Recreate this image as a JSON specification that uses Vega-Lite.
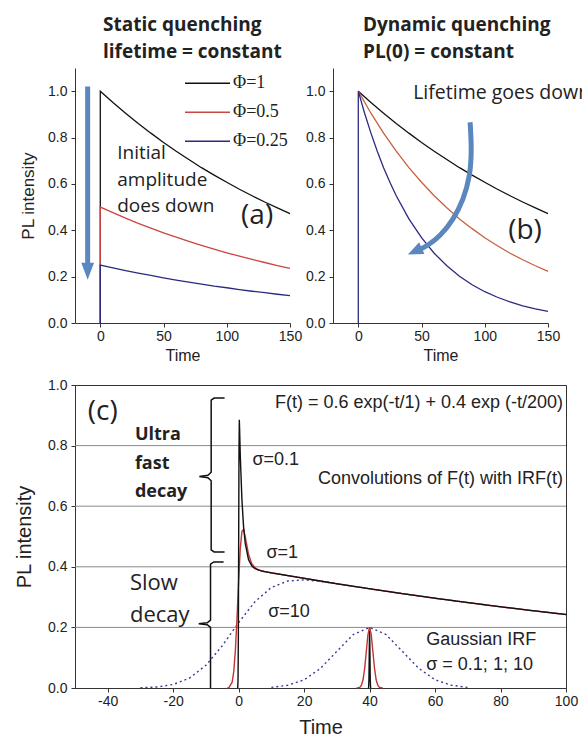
{
  "$schema": "https://vega.github.io/schema/vega-lite/v6.json",
  "background": "white",
  "padding": {"left": 14, "top": 16, "right": 0, "bottom": 0},
  "spacing": 14,
  "resolve": {"scale": {"color": "independent", "strokeDash": "independent"}},
  "config": {
    "view": {"stroke": null},
    "font": "Liberation Sans",
    "axis": {"domainColor": "#333", "tickColor": "#333", "labelColor": "#222", "titleColor": "#222", "labelFont": "Liberation Sans", "labelFontSize": 14, "titleFont": "Liberation Sans", "titleFontWeight": "normal", "tickSize": 4, "grid": false, "labelOverlap": false},
    "axisX": {"labelPadding": 2, "labelFlush": false},
    "axisY": {"labelPadding": 4},
    "title": {"font": "Open Sans", "fontWeight": "bold", "fontSize": 19, "color": "#222", "anchor": "start", "frame": "group"}
  },
  "datasets": {
    "curvesA": [
      {"t": 0, "v": 0, "s": "Φ=1"}, {"t": 0, "v": 1, "s": "Φ=1"}, {"t": 10, "v": 0.951, "s": "Φ=1"}, {"t": 20, "v": 0.905, "s": "Φ=1"}, {"t": 30, "v": 0.861, "s": "Φ=1"}, {"t": 40, "v": 0.819, "s": "Φ=1"}, {"t": 50, "v": 0.779, "s": "Φ=1"}, {"t": 60, "v": 0.741, "s": "Φ=1"}, {"t": 70, "v": 0.705, "s": "Φ=1"}, {"t": 80, "v": 0.670, "s": "Φ=1"}, {"t": 90, "v": 0.638, "s": "Φ=1"}, {"t": 100, "v": 0.607, "s": "Φ=1"}, {"t": 110, "v": 0.577, "s": "Φ=1"}, {"t": 120, "v": 0.549, "s": "Φ=1"}, {"t": 130, "v": 0.522, "s": "Φ=1"}, {"t": 140, "v": 0.497, "s": "Φ=1"}, {"t": 150, "v": 0.472, "s": "Φ=1"},
      {"t": 0, "v": 0, "s": "Φ=0.5"}, {"t": 0, "v": 0.5, "s": "Φ=0.5"}, {"t": 10, "v": 0.476, "s": "Φ=0.5"}, {"t": 20, "v": 0.452, "s": "Φ=0.5"}, {"t": 30, "v": 0.430, "s": "Φ=0.5"}, {"t": 40, "v": 0.409, "s": "Φ=0.5"}, {"t": 50, "v": 0.389, "s": "Φ=0.5"}, {"t": 60, "v": 0.370, "s": "Φ=0.5"}, {"t": 70, "v": 0.352, "s": "Φ=0.5"}, {"t": 80, "v": 0.335, "s": "Φ=0.5"}, {"t": 90, "v": 0.319, "s": "Φ=0.5"}, {"t": 100, "v": 0.303, "s": "Φ=0.5"}, {"t": 110, "v": 0.288, "s": "Φ=0.5"}, {"t": 120, "v": 0.274, "s": "Φ=0.5"}, {"t": 130, "v": 0.261, "s": "Φ=0.5"}, {"t": 140, "v": 0.248, "s": "Φ=0.5"}, {"t": 150, "v": 0.236, "s": "Φ=0.5"},
      {"t": 0, "v": 0, "s": "Φ=0.25"}, {"t": 0, "v": 0.25, "s": "Φ=0.25"}, {"t": 10, "v": 0.238, "s": "Φ=0.25"}, {"t": 20, "v": 0.226, "s": "Φ=0.25"}, {"t": 30, "v": 0.215, "s": "Φ=0.25"}, {"t": 40, "v": 0.205, "s": "Φ=0.25"}, {"t": 50, "v": 0.195, "s": "Φ=0.25"}, {"t": 60, "v": 0.185, "s": "Φ=0.25"}, {"t": 70, "v": 0.176, "s": "Φ=0.25"}, {"t": 80, "v": 0.168, "s": "Φ=0.25"}, {"t": 90, "v": 0.159, "s": "Φ=0.25"}, {"t": 100, "v": 0.152, "s": "Φ=0.25"}, {"t": 110, "v": 0.144, "s": "Φ=0.25"}, {"t": 120, "v": 0.137, "s": "Φ=0.25"}, {"t": 130, "v": 0.131, "s": "Φ=0.25"}, {"t": 140, "v": 0.124, "s": "Φ=0.25"}, {"t": 150, "v": 0.118, "s": "Φ=0.25"}
    ],
    "curvesB": [
      {"t": 0, "v": 1, "s": "τ=200"}, {"t": 10, "v": 0.951, "s": "τ=200"}, {"t": 20, "v": 0.905, "s": "τ=200"}, {"t": 30, "v": 0.861, "s": "τ=200"}, {"t": 40, "v": 0.819, "s": "τ=200"}, {"t": 50, "v": 0.779, "s": "τ=200"}, {"t": 60, "v": 0.741, "s": "τ=200"}, {"t": 70, "v": 0.705, "s": "τ=200"}, {"t": 80, "v": 0.670, "s": "τ=200"}, {"t": 90, "v": 0.638, "s": "τ=200"}, {"t": 100, "v": 0.607, "s": "τ=200"}, {"t": 110, "v": 0.577, "s": "τ=200"}, {"t": 120, "v": 0.549, "s": "τ=200"}, {"t": 130, "v": 0.522, "s": "τ=200"}, {"t": 140, "v": 0.497, "s": "τ=200"}, {"t": 150, "v": 0.472, "s": "τ=200"},
      {"t": 0, "v": 1, "s": "τ=100"}, {"t": 10, "v": 0.905, "s": "τ=100"}, {"t": 20, "v": 0.819, "s": "τ=100"}, {"t": 30, "v": 0.741, "s": "τ=100"}, {"t": 40, "v": 0.670, "s": "τ=100"}, {"t": 50, "v": 0.607, "s": "τ=100"}, {"t": 60, "v": 0.549, "s": "τ=100"}, {"t": 70, "v": 0.497, "s": "τ=100"}, {"t": 80, "v": 0.449, "s": "τ=100"}, {"t": 90, "v": 0.407, "s": "τ=100"}, {"t": 100, "v": 0.368, "s": "τ=100"}, {"t": 110, "v": 0.333, "s": "τ=100"}, {"t": 120, "v": 0.301, "s": "τ=100"}, {"t": 130, "v": 0.273, "s": "τ=100"}, {"t": 140, "v": 0.247, "s": "τ=100"}, {"t": 150, "v": 0.223, "s": "τ=100"},
      {"t": 0, "v": 0, "s": "τ=50"}, {"t": 0, "v": 1, "s": "τ=50"}, {"t": 5, "v": 0.905, "s": "τ=50"}, {"t": 10, "v": 0.819, "s": "τ=50"}, {"t": 15, "v": 0.741, "s": "τ=50"}, {"t": 20, "v": 0.670, "s": "τ=50"}, {"t": 25, "v": 0.607, "s": "τ=50"}, {"t": 30, "v": 0.549, "s": "τ=50"}, {"t": 40, "v": 0.449, "s": "τ=50"}, {"t": 50, "v": 0.368, "s": "τ=50"}, {"t": 60, "v": 0.301, "s": "τ=50"}, {"t": 70, "v": 0.247, "s": "τ=50"}, {"t": 80, "v": 0.202, "s": "τ=50"}, {"t": 90, "v": 0.165, "s": "τ=50"}, {"t": 100, "v": 0.135, "s": "τ=50"}, {"t": 110, "v": 0.111, "s": "τ=50"}, {"t": 120, "v": 0.091, "s": "τ=50"}, {"t": 130, "v": 0.074, "s": "τ=50"}, {"t": 140, "v": 0.061, "s": "τ=50"}, {"t": 150, "v": 0.050, "s": "τ=50"}
    ],
    "arrowB": [
      {"t": 88.4, "v": 0.866, "k": 1}, {"t": 89.7, "v": 0.749, "k": 2}, {"t": 88.4, "v": 0.633, "k": 3}, {"t": 83.1, "v": 0.532, "k": 4}, {"t": 75.2, "v": 0.446, "k": 5}, {"t": 64.7, "v": 0.374, "k": 6}, {"t": 55, "v": 0.335, "k": 7}, {"t": 49, "v": 0.318, "k": 8}
    ],
    "curvesC": [
      {"t": -30, "v": 0.0007, "s": "c10", "g": "10"}, {"t": -25, "v": 0.0033, "s": "c10", "g": "10"}, {"t": -20, "v": 0.0116, "s": "c10", "g": "10"}, {"t": -15, "v": 0.0329, "s": "c10", "g": "10"}, {"t": -10, "v": 0.075, "s": "c10", "g": "10"}, {"t": -5, "v": 0.1395, "s": "c10", "g": "10"}, {"t": 0, "v": 0.216, "s": "c10", "g": "10"}, {"t": 5, "v": 0.285, "s": "c10", "g": "10"}, {"t": 10, "v": 0.332, "s": "c10", "g": "10"}, {"t": 15, "v": 0.353, "s": "c10", "g": "10"}, {"t": 20, "v": 0.357, "s": "c10", "g": "10"}, {"t": 25, "v": 0.352, "s": "c10", "g": "10"}, {"t": 30, "v": 0.3446, "s": "c10", "g": "10"},
      {"t": 10, "v": 0.002, "s": "g10", "g": "10"}, {"t": 15, "v": 0.009, "s": "g10", "g": "10"}, {"t": 20, "v": 0.027, "s": "g10", "g": "10"}, {"t": 25, "v": 0.065, "s": "g10", "g": "10"}, {"t": 30, "v": 0.121, "s": "g10", "g": "10"}, {"t": 35, "v": 0.1765, "s": "g10", "g": "10"}, {"t": 40, "v": 0.2, "s": "g10", "g": "10"}, {"t": 45, "v": 0.1765, "s": "g10", "g": "10"}, {"t": 50, "v": 0.121, "s": "g10", "g": "10"}, {"t": 55, "v": 0.065, "s": "g10", "g": "10"}, {"t": 60, "v": 0.027, "s": "g10", "g": "10"}, {"t": 65, "v": 0.009, "s": "g10", "g": "10"}, {"t": 70, "v": 0.002, "s": "g10", "g": "10"},
      {"t": -3.5, "v": 0, "s": "c1", "g": "1"}, {"t": -3, "v": 0.001, "s": "c1", "g": "1"}, {"t": -2, "v": 0.019, "s": "c1", "g": "1"}, {"t": -1.5, "v": 0.054, "s": "c1", "g": "1"}, {"t": -1, "v": 0.125, "s": "c1", "g": "1"}, {"t": -0.5, "v": 0.232, "s": "c1", "g": "1"}, {"t": 0, "v": 0.357, "s": "c1", "g": "1"}, {"t": 0.5, "v": 0.461, "s": "c1", "g": "1"}, {"t": 1, "v": 0.517, "s": "c1", "g": "1"}, {"t": 1.5, "v": 0.523, "s": "c1", "g": "1"}, {"t": 2, "v": 0.5, "s": "c1", "g": "1"}, {"t": 3, "v": 0.442, "s": "c1", "g": "1"}, {"t": 4, "v": 0.41, "s": "c1", "g": "1"}, {"t": 5, "v": 0.397, "s": "c1", "g": "1"}, {"t": 6, "v": 0.39, "s": "c1", "g": "1"}, {"t": 8, "v": 0.384, "s": "c1", "g": "1"}, {"t": 10, "v": 0.38, "s": "c1", "g": "1"}, {"t": 15, "v": 0.371, "s": "c1", "g": "1"}, {"t": 20, "v": 0.362, "s": "c1", "g": "1"}, {"t": 30, "v": 0.344, "s": "c1", "g": "1"}, {"t": 40, "v": 0.3275, "s": "c1", "g": "1"}, {"t": 50, "v": 0.3115, "s": "c1", "g": "1"}, {"t": 60, "v": 0.2963, "s": "c1", "g": "1"}, {"t": 70, "v": 0.2819, "s": "c1", "g": "1"}, {"t": 80, "v": 0.2681, "s": "c1", "g": "1"}, {"t": 90, "v": 0.255, "s": "c1", "g": "1"}, {"t": 100, "v": 0.2426, "s": "c1", "g": "1"},
      {"t": -0.3, "v": 0, "s": "c01", "g": "0.1"}, {"t": -0.2, "v": 0.022, "s": "c01", "g": "0.1"}, {"t": -0.1, "v": 0.154, "s": "c01", "g": "0.1"}, {"t": 0, "v": 0.478, "s": "c01", "g": "0.1"}, {"t": 0.1, "v": 0.782, "s": "c01", "g": "0.1"}, {"t": 0.2, "v": 0.885, "s": "c01", "g": "0.1"}, {"t": 0.3, "v": 0.85, "s": "c01", "g": "0.1"}, {"t": 0.5, "v": 0.765, "s": "c01", "g": "0.1"}, {"t": 1, "v": 0.62, "s": "c01", "g": "0.1"}, {"t": 1.5, "v": 0.532, "s": "c01", "g": "0.1"}, {"t": 2, "v": 0.478, "s": "c01", "g": "0.1"}, {"t": 3, "v": 0.424, "s": "c01", "g": "0.1"}, {"t": 4, "v": 0.403, "s": "c01", "g": "0.1"}, {"t": 5, "v": 0.394, "s": "c01", "g": "0.1"}, {"t": 7, "v": 0.386, "s": "c01", "g": "0.1"}, {"t": 10, "v": 0.38, "s": "c01", "g": "0.1"}, {"t": 15, "v": 0.371, "s": "c01", "g": "0.1"}, {"t": 20, "v": 0.362, "s": "c01", "g": "0.1"}, {"t": 30, "v": 0.344, "s": "c01", "g": "0.1"}, {"t": 40, "v": 0.3275, "s": "c01", "g": "0.1"}, {"t": 50, "v": 0.3115, "s": "c01", "g": "0.1"}, {"t": 60, "v": 0.2963, "s": "c01", "g": "0.1"}, {"t": 70, "v": 0.2819, "s": "c01", "g": "0.1"}, {"t": 80, "v": 0.2681, "s": "c01", "g": "0.1"}, {"t": 90, "v": 0.255, "s": "c01", "g": "0.1"}, {"t": 100, "v": 0.2426, "s": "c01", "g": "0.1"},
      {"t": 39.6, "v": 0, "s": "g01", "g": "0.1"}, {"t": 39.7, "v": 0.002, "s": "g01", "g": "0.1"}, {"t": 39.8, "v": 0.027, "s": "g01", "g": "0.1"}, {"t": 39.9, "v": 0.121, "s": "g01", "g": "0.1"}, {"t": 40, "v": 0.2, "s": "g01", "g": "0.1"}, {"t": 40.1, "v": 0.121, "s": "g01", "g": "0.1"}, {"t": 40.2, "v": 0.027, "s": "g01", "g": "0.1"}, {"t": 40.3, "v": 0.002, "s": "g01", "g": "0.1"}, {"t": 40.4, "v": 0, "s": "g01", "g": "0.1"},
      {"t": 36, "v": 0, "s": "g1", "g": "1"}, {"t": 37, "v": 0.002, "s": "g1", "g": "1"}, {"t": 37.5, "v": 0.009, "s": "g1", "g": "1"}, {"t": 38, "v": 0.027, "s": "g1", "g": "1"}, {"t": 38.5, "v": 0.065, "s": "g1", "g": "1"}, {"t": 39, "v": 0.121, "s": "g1", "g": "1"}, {"t": 39.5, "v": 0.1765, "s": "g1", "g": "1"}, {"t": 40, "v": 0.2, "s": "g1", "g": "1"}, {"t": 40.5, "v": 0.1765, "s": "g1", "g": "1"}, {"t": 41, "v": 0.121, "s": "g1", "g": "1"}, {"t": 41.5, "v": 0.065, "s": "g1", "g": "1"}, {"t": 42, "v": 0.027, "s": "g1", "g": "1"}, {"t": 42.5, "v": 0.009, "s": "g1", "g": "1"}, {"t": 43, "v": 0.002, "s": "g1", "g": "1"}, {"t": 44, "v": 0, "s": "g1", "g": "1"}
    ],
    "braces": [
      {"t": -4.3, "v": 0.957, "b": "u", "k": 1}, {"t": -7.5, "v": 0.957, "b": "u", "k": 2}, {"t": -8.4, "v": 0.95, "b": "u", "k": 3}, {"t": -8.4, "v": 0.712, "b": "u", "k": 4}, {"t": -9.4, "v": 0.702, "b": "u", "k": 5}, {"t": -12, "v": 0.698, "b": "u", "k": 6}, {"t": -9.4, "v": 0.694, "b": "u", "k": 7}, {"t": -8.4, "v": 0.684, "b": "u", "k": 8}, {"t": -8.4, "v": 0.456, "b": "u", "k": 9}, {"t": -7.5, "v": 0.449, "b": "u", "k": 10}, {"t": -4.3, "v": 0.449, "b": "u", "k": 11},
      {"t": -4.6, "v": 0.416, "b": "s", "k": 1}, {"t": -7.6, "v": 0.416, "b": "s", "k": 2}, {"t": -8.6, "v": 0.409, "b": "s", "k": 3}, {"t": -8.6, "v": 0.224, "b": "s", "k": 4}, {"t": -9.6, "v": 0.215, "b": "s", "k": 5}, {"t": -12.2, "v": 0.212, "b": "s", "k": 6}, {"t": -9.6, "v": 0.209, "b": "s", "k": 7}, {"t": -8.6, "v": 0.2, "b": "s", "k": 8}, {"t": -8.6, "v": 0, "b": "s", "k": 9}
    ]
  },
  "vconcat": [
    {
      "bounds": "flush",
      "spacing": 43,
      "resolve": {"scale": {"color": "independent"}},
      "hconcat": [
        {
          "width": 215,
          "height": 255,
          "title": {"text": ["Static quenching", "lifetime = constant"], "dx": 28, "offset": 6, "lineHeight": 27},
          "layer": [
            {
              "data": {"name": "curvesA"},
              "mark": {"type": "line", "strokeWidth": 1.3},
              "encoding": {
                "x": {"field": "t", "type": "quantitative", "scale": {"domain": [-20, 150], "nice": false, "zero": false},
                      "axis": {"title": "Time", "values": [0, 25, 50, 75, 100, 125, 150], "labelExpr": "datum.value % 50 == 0 ? datum.label : ''", "titleFontSize": 16, "titlePadding": 4}},
                "y": {"field": "v", "type": "quantitative", "scale": {"domain": [0, 1.1], "nice": false},
                      "axis": {"title": "PL intensity", "values": [0, 0.1, 0.2, 0.3, 0.4, 0.5, 0.6, 0.7, 0.8, 0.9, 1.0], "labelExpr": "round(datum.value * 10) % 2 == 0 ? format(datum.value, '.1f') : ''", "titleFontSize": 17, "titlePadding": 10}},
                "color": {"field": "s", "type": "nominal", "scale": {"domain": ["Φ=1", "Φ=0.5", "Φ=0.25"], "range": ["#111111", "#cc4444", "#2a2a80"]},
                          "legend": {"title": null, "orient": "top-right", "offset": 2, "padding": 0, "symbolType": "stroke", "symbolSize": 2025, "symbolStrokeWidth": 1.3, "labelFont": "Liberation Serif", "labelFontSize": 18, "labelColor": "#222", "clipHeight": 26.5, "rowPadding": 2, "labelOffset": 2}}
              }
            },
            {
              "data": {"values": [{"t": -10, "v": 1.02, "v2": 0.24}]},
              "mark": {"type": "rule", "strokeWidth": 5, "color": "#5a87bd"},
              "encoding": {"x": {"field": "t", "type": "quantitative"}, "y": {"field": "v", "type": "quantitative"}, "y2": {"field": "v2"}}
            },
            {
              "data": {"values": [{"t": -10, "v": 0.223}]},
              "mark": {"type": "point", "shape": "M-0.75,-1L0.75,-1L0,1Z", "filled": true, "size": 289, "color": "#5a87bd", "opacity": 1, "strokeWidth": 0},
              "encoding": {"x": {"field": "t", "type": "quantitative"}, "y": {"field": "v", "type": "quantitative"}}
            },
            {
              "data": {"values": [{"t": 13.4, "v": 0.706, "label": "Initial\namplitude\ndoes down"}]},
              "mark": {"type": "text", "font": "Open Sans", "fontSize": 19, "align": "left", "baseline": "alphabetic", "lineBreak": "\n", "lineHeight": 26.5, "color": "#222"},
              "encoding": {"x": {"field": "t", "type": "quantitative"}, "y": {"field": "v", "type": "quantitative"}, "text": {"field": "label"}}
            },
            {
              "data": {"values": [{"t": 124, "v": 0.463, "label": "(a)"}]},
              "mark": {"type": "text", "font": "Open Sans", "fontSize": 28, "align": "center", "baseline": "middle", "color": "#222"},
              "encoding": {"x": {"field": "t", "type": "quantitative"}, "y": {"field": "v", "type": "quantitative"}, "text": {"field": "label"}}
            }
          ]
        },
        {
          "width": 215,
          "height": 255,
          "title": {"text": ["Dynamic quenching", "PL(0) = constant"], "dx": 30, "offset": 6, "lineHeight": 27},
          "layer": [
            {
              "data": {"name": "curvesB"},
              "mark": {"type": "line", "strokeWidth": 1.3},
              "encoding": {
                "x": {"field": "t", "type": "quantitative", "scale": {"domain": [-20, 150], "nice": false, "zero": false},
                      "axis": {"title": "Time", "values": [0, 25, 50, 75, 100, 125, 150], "labelExpr": "datum.value % 50 == 0 ? datum.label : ''", "titleFontSize": 16, "titlePadding": 4}},
                "y": {"field": "v", "type": "quantitative", "scale": {"domain": [0, 1.1], "nice": false},
                      "axis": {"title": null, "values": [0, 0.1, 0.2, 0.3, 0.4, 0.5, 0.6, 0.7, 0.8, 0.9, 1.0], "labelExpr": "round(datum.value * 10) % 2 == 0 ? format(datum.value, '.1f') : ''"}},
                "color": {"field": "s", "type": "nominal", "scale": {"domain": ["τ=200", "τ=100", "τ=50"], "range": ["#111111", "#c8603c", "#2a2a80"]}, "legend": null}
              }
            },
            {
              "data": {"name": "arrowB"},
              "mark": {"type": "line", "strokeWidth": 5, "color": "#5a87bd", "interpolate": "basis"},
              "encoding": {"x": {"field": "t", "type": "quantitative"}, "y": {"field": "v", "type": "quantitative"}, "order": {"field": "k", "type": "quantitative"}}
            },
            {
              "data": {"values": [{"t": 45, "v": 0.31}]},
              "mark": {"type": "point", "shape": "M0,-1L0.8,0.9L-0.8,0.9Z", "filled": true, "size": 256, "angle": 246, "color": "#5a87bd", "opacity": 1, "strokeWidth": 0},
              "encoding": {"x": {"field": "t", "type": "quantitative"}, "y": {"field": "v", "type": "quantitative"}}
            },
            {
              "data": {"values": [{"t": 43.4, "v": 0.965, "label": "Lifetime goes down"}]},
              "mark": {"type": "text", "font": "Open Sans", "fontSize": 19.5, "align": "left", "baseline": "alphabetic", "color": "#222"},
              "encoding": {"x": {"field": "t", "type": "quantitative"}, "y": {"field": "v", "type": "quantitative"}, "text": {"field": "label"}}
            },
            {
              "data": {"values": [{"t": 131.8, "v": 0.398, "label": "(b)"}]},
              "mark": {"type": "text", "font": "Open Sans", "fontSize": 28, "align": "center", "baseline": "middle", "color": "#222"},
              "encoding": {"x": {"field": "t", "type": "quantitative"}, "y": {"field": "v", "type": "quantitative"}, "text": {"field": "label"}}
            }
          ]
        }
      ]
    },
    {
      "width": 491,
      "height": 303,
      "view": {"stroke": "#333", "strokeWidth": 1},
      "resolve": {"scale": {"color": "independent", "strokeDash": "independent"}},
      "layer": [
        {
          "data": {"values": [{"v": 0.2}, {"v": 0.4}, {"v": 0.6}, {"v": 0.8}]},
          "mark": {"type": "rule", "color": "#8a8a8a", "strokeWidth": 1},
          "encoding": {"y": {"field": "v", "type": "quantitative", "scale": {"domain": [0, 1], "nice": false},
                             "axis": {"title": "PL intensity", "values": [0, 0.1, 0.2, 0.3, 0.4, 0.5, 0.6, 0.7, 0.8, 0.9, 1.0], "labelExpr": "round(datum.value * 10) % 2 == 0 ? format(datum.value, '.1f') : ''", "titleFontSize": 20, "titlePadding": 13}}}
        },
        {
          "data": {"name": "curvesC"},
          "mark": {"type": "line", "strokeWidth": 1.4},
          "encoding": {
            "x": {"field": "t", "type": "quantitative", "scale": {"domain": [-50, 100], "nice": false, "zero": false},
                  "axis": {"title": "Time", "values": [-40, -30, -20, -10, 0, 10, 20, 30, 40, 50, 60, 70, 80, 90, 100], "labelExpr": "datum.value % 20 == 0 ? '' + datum.value : ''", "titleFontSize": 20, "titlePadding": 9}},
            "y": {"field": "v", "type": "quantitative"},
            "color": {"field": "g", "type": "nominal", "scale": {"domain": ["0.1", "1", "10"], "range": ["#111111", "#c03535", "#3a3a9a"]}, "legend": null},
            "strokeDash": {"field": "g", "type": "nominal", "scale": {"domain": ["0.1", "1", "10"], "range": [[1, 0], [1, 0], [2, 3]]}, "legend": null},
            "detail": {"field": "s"}
          }
        },
        {
          "data": {"name": "braces"},
          "mark": {"type": "line", "strokeWidth": 1.5, "color": "#111111"},
          "encoding": {"x": {"field": "t", "type": "quantitative"}, "y": {"field": "v", "type": "quantitative"}, "detail": {"field": "b"}, "order": {"field": "k", "type": "quantitative"}}
        },
        {
          "data": {"values": [{"t": -41.5, "v": 0.911, "label": "(c)"}]},
          "mark": {"type": "text", "font": "Open Sans", "fontSize": 28, "align": "center", "baseline": "middle", "color": "#222"},
          "encoding": {"x": {"field": "t", "type": "quantitative"}, "y": {"field": "v", "type": "quantitative"}, "text": {"field": "label"}}
        },
        {
          "data": {"values": [{"t": -31.7, "v": 0.818, "label": "Ultra\nfast\ndecay"}]},
          "mark": {"type": "text", "font": "Open Sans", "fontWeight": "bold", "fontSize": 18, "align": "left", "baseline": "alphabetic", "lineBreak": "\n", "lineHeight": 28.5, "color": "#222"},
          "encoding": {"x": {"field": "t", "type": "quantitative"}, "y": {"field": "v", "type": "quantitative"}, "text": {"field": "label"}}
        },
        {
          "data": {"values": [{"t": -33.2, "v": 0.323, "label": "Slow\ndecay"}]},
          "mark": {"type": "text", "font": "Open Sans", "fontSize": 22, "align": "left", "baseline": "alphabetic", "lineBreak": "\n", "lineHeight": 32, "color": "#222"},
          "encoding": {"x": {"field": "t", "type": "quantitative"}, "y": {"field": "v", "type": "quantitative"}, "text": {"field": "label"}}
        },
        {
          "data": {"values": [{"t": 4.2, "v": 0.736, "label": "σ=0.1"}, {"t": 8.5, "v": 0.429, "label": "σ=1"}, {"t": 9.0, "v": 0.235, "label": "σ=10"}, {"t": 57.3, "v": 0.142, "label": "Gaussian IRF\nσ = 0.1; 1; 10"}]},
          "mark": {"type": "text", "font": "Liberation Sans", "fontSize": 18, "align": "left", "baseline": "alphabetic", "lineBreak": "\n", "lineHeight": 25, "color": "#222"},
          "encoding": {"x": {"field": "t", "type": "quantitative"}, "y": {"field": "v", "type": "quantitative"}, "text": {"field": "label"}}
        },
        {
          "data": {"values": [{"t": 99.1, "v": 0.924, "label": "F(t) = 0.6 exp(-t/1) + 0.4 exp (-t/200)"}, {"t": 99.1, "v": 0.673, "label": "Convolutions of F(t) with IRF(t)"}]},
          "mark": {"type": "text", "font": "Liberation Sans", "fontSize": 18, "align": "right", "baseline": "alphabetic", "color": "#222"},
          "encoding": {"x": {"field": "t", "type": "quantitative"}, "y": {"field": "v", "type": "quantitative"}, "text": {"field": "label"}}
        }
      ]
    }
  ]
}
